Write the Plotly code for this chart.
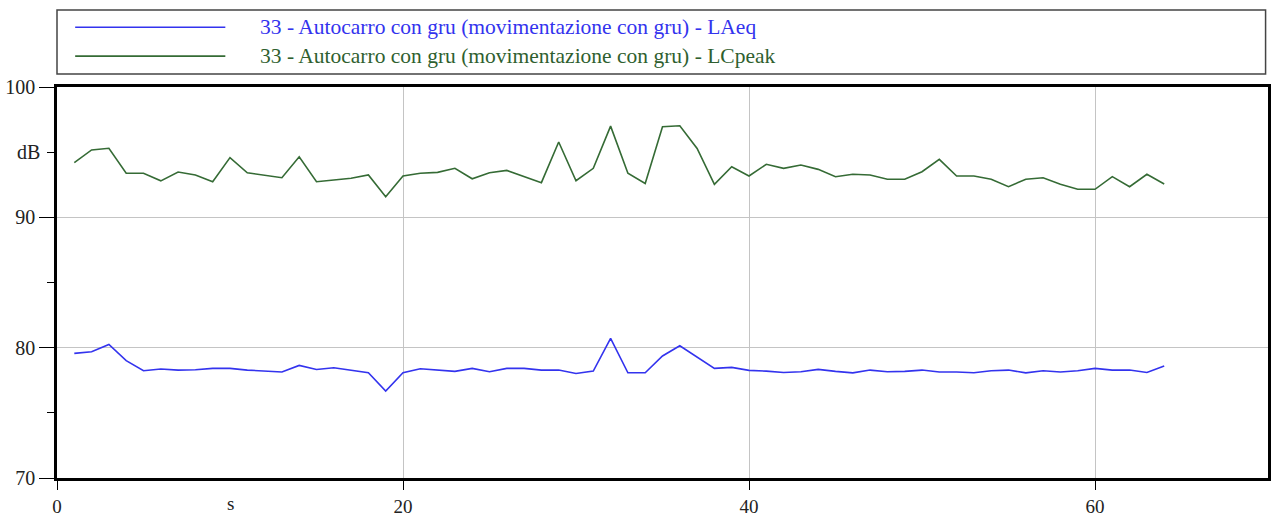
import plotly.graph_objects as go

t = list(range(1, 65))
laeq = [79.56, 79.69, 80.25, 79.0, 78.23, 78.36, 78.28, 78.31, 78.41, 78.41,
        78.28, 78.23, 78.13, 78.64, 78.33, 78.46, 78.28, 78.07, 76.67, 78.07,
        78.38, 78.28, 78.18, 78.41, 78.15, 78.41, 78.41, 78.28, 78.28, 78.02,
        78.2, 80.71, 78.07, 78.07, 79.36, 80.15, 79.3, 78.41, 78.49, 78.26,
        78.2, 78.1, 78.15, 78.33, 78.18, 78.07, 78.28, 78.15, 78.18, 78.28,
        78.13, 78.13, 78.07, 78.23, 78.28, 78.07, 78.23, 78.13, 78.23, 78.41,
        78.28, 78.28, 78.1, 78.59]
lcpeak = [94.19, 95.17, 95.3, 93.38, 93.38, 92.8, 93.48, 93.25, 92.73, 94.58,
          93.42, 93.25, 93.04, 94.65, 92.73, 92.86, 93.0, 93.25, 91.58, 93.17,
          93.38, 93.45, 93.76, 92.96, 93.42, 93.6, 93.12, 92.66, 95.78, 92.81,
          93.76, 97.0, 93.38, 92.6, 96.95, 97.03, 95.29, 92.53, 93.88, 93.17,
          94.07, 93.76, 94.01, 93.68, 93.12, 93.3, 93.25, 92.92, 92.92, 93.5,
          94.45, 93.17, 93.17, 92.92, 92.35, 92.92, 93.04, 92.53, 92.15, 92.15,
          93.12, 92.35, 93.3, 92.56]

names = ["33 - Autocarro con gru (movimentazione con gru) - LAeq",
         "33 - Autocarro con gru (movimentazione con gru) - LCpeak"]
colors = ["#3333ee", "#356b35"]

x_ticks = [0, 20, 40, 60]
y_ticks = [70, 80, 90, 100]

FONT = "Liberation Serif"

fig = go.Figure()
fig.add_trace(go.Scatter(x=t, y=laeq, mode="lines", name=names[0],
                         line=dict(color=colors[0], width=1.6), showlegend=False))
fig.add_trace(go.Scatter(x=t, y=lcpeak, mode="lines", name=names[1],
                         line=dict(color=colors[1], width=1.6), showlegend=False))

fig.update_xaxes(range=[0, 70], tickvals=x_ticks, ticks="outside", ticklen=9,
                 tickcolor="black", showgrid=True, gridcolor="#c4c4c4", gridwidth=1,
                 showline=True, linecolor="black", linewidth=2.5, mirror=True,
                 zeroline=False, automargin=False,
                 tickfont=dict(family=FONT, size=19, color="#222222"))
fig.update_yaxes(range=[70, 100], tickvals=y_ticks, ticks="outside", ticklen=15,
                 tickcolor="black", showgrid=True, gridcolor="#c4c4c4", gridwidth=1,
                 showline=True, linecolor="black", linewidth=2.5, mirror=True,
                 zeroline=False, automargin=False,
                 tickfont=dict(family=FONT, size=20, color="#222222"),
                 minor=dict(dtick=5, tick0=70, ticklen=7, tickcolor="black", showgrid=False))

shapes = [
    dict(type="rect", xref="paper", yref="paper", x0=0, x1=0.998, y0=1.033, y1=1.197,
         line=dict(color="#444444", width=1.5), fillcolor="white"),
    dict(type="line", xref="paper", yref="paper", x0=0.015, x1=0.139, y0=1.153, y1=1.153,
         line=dict(color=colors[0], width=1.6)),
    dict(type="line", xref="paper", yref="paper", x0=0.015, x1=0.139, y0=1.079, y1=1.079,
         line=dict(color=colors[1], width=1.6)),
]
annotations = [
    dict(xref="paper", yref="paper", x=0.166, y=1.153, text=names[0], showarrow=False,
         xanchor="left", yanchor="middle", font=dict(family=FONT, size=21.5, color=colors[0])),
    dict(xref="paper", yref="paper", x=0.166, y=1.079, text=names[1], showarrow=False,
         xanchor="left", yanchor="middle", font=dict(family=FONT, size=21.5, color="#2f5f2f")),
    dict(xref="paper", yref="y", x=-0.0125, y=95, text="dB", showarrow=False,
         xanchor="right", yanchor="middle", font=dict(family=FONT, size=20, color="#222222")),
    dict(xref="x", yref="paper", x=10, y=0, yshift=-13, text="s", showarrow=False,
         xanchor="center", yanchor="top", font=dict(family=FONT, size=19, color="#222222")),
]

fig.update_layout(width=1271, height=516, margin=dict(l=57, r=3, t=87, b=38),
                  paper_bgcolor="white", plot_bgcolor="white",
                  shapes=shapes, annotations=annotations, showlegend=False)

fig.write_html("out.html")
